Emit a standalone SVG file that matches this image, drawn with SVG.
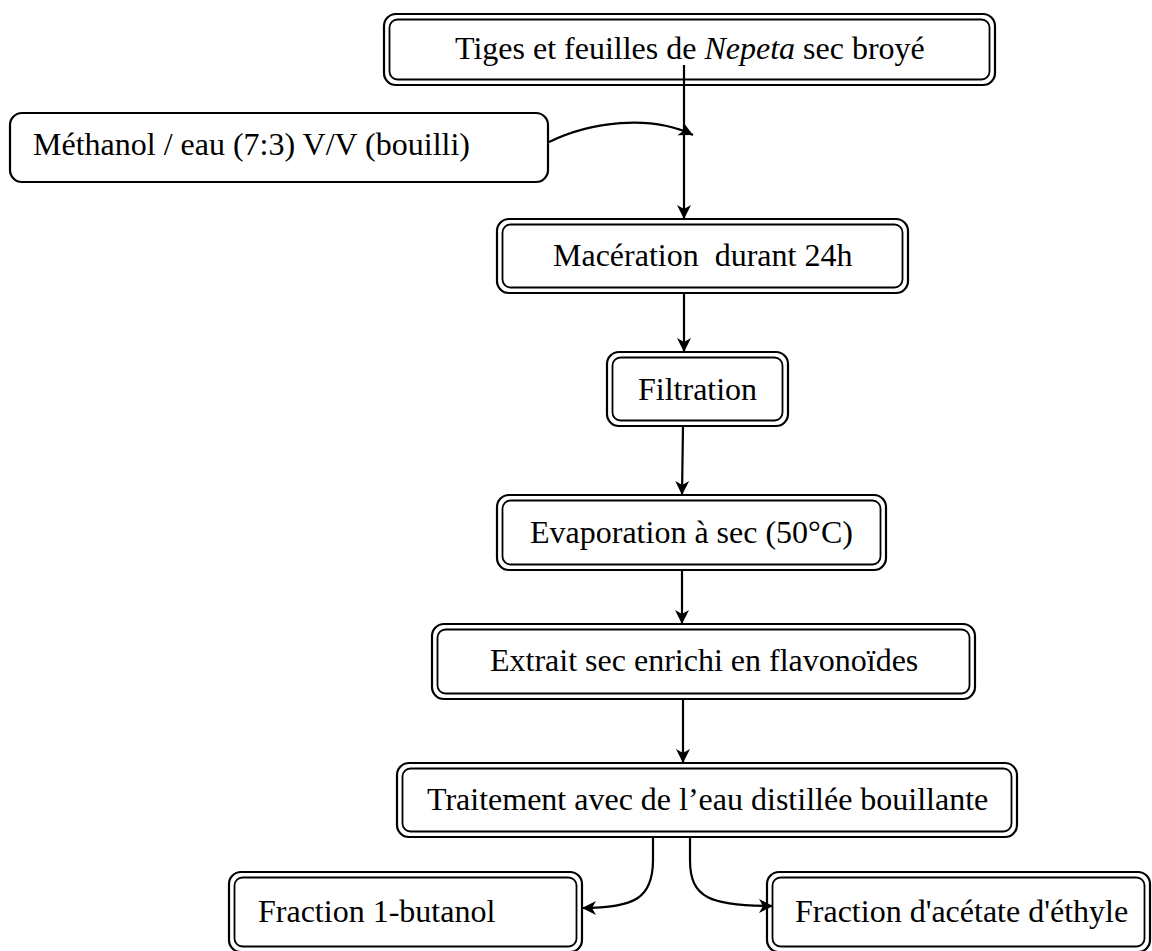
<svg xmlns="http://www.w3.org/2000/svg" width="1152" height="951" viewBox="0 0 1152 951">
<style>
.o{fill:#fff;stroke:#000;stroke-width:2.2}
.i{fill:none;stroke:#000;stroke-width:1.8}
.t{font-family:"Liberation Serif","Times New Roman",serif;font-size:32px;fill:#000}
.c{fill:none;stroke:#000;stroke-width:2.2}
</style>
<defs>
<marker id="a" markerUnits="userSpaceOnUse" markerWidth="16" markerHeight="16" refX="14" refY="7" orient="auto" viewBox="0 0 16 14">
<path d="M0,0 L14,7 L0,14 L4,7 z" fill="#000"/>
</marker>
</defs>
<rect width="1152" height="951" fill="#fff"/>
<g id="n1">
<rect class="o" x="384" y="14" width="611" height="71" rx="12"/>
<rect class="i" x="389.5" y="19.5" width="600" height="60" rx="8"/>
<text class="t" x="455" y="59">Tiges et feuilles de <tspan font-style="italic">Nepeta</tspan> sec broyé</text>
</g>
<g id="n2">
<rect class="o" x="10" y="113" width="538" height="69" rx="12"/>
<text class="t" x="33" y="155">Méthanol / eau (7:3) V/V (bouilli)</text>
</g>
<g id="n3">
<rect class="o" x="497" y="219" width="411" height="74" rx="12"/>
<rect class="i" x="502.5" y="224.5" width="400" height="63" rx="8"/>
<text class="t" x="553" y="266" xml:space="preserve">Macération  durant 24h</text>
</g>
<g id="n4">
<rect class="o" x="607" y="352" width="181" height="74" rx="12"/>
<rect class="i" x="612.5" y="357.5" width="170" height="63" rx="8"/>
<text class="t" x="638" y="400">Filtration</text>
</g>
<g id="n5">
<rect class="o" x="497" y="495" width="389" height="75" rx="12"/>
<rect class="i" x="502.5" y="500.5" width="378" height="64" rx="8"/>
<text class="t" x="530" y="543">Evaporation à sec (50°C)</text>
</g>
<g id="n6">
<rect class="o" x="432" y="624" width="543" height="75" rx="12"/>
<rect class="i" x="437.5" y="629.5" width="532" height="64" rx="8"/>
<text class="t" x="490" y="671">Extrait sec enrichi en flavonoïdes</text>
</g>
<g id="n7">
<rect class="o" x="397" y="763" width="620" height="74" rx="12"/>
<rect class="i" x="402.5" y="768.5" width="609" height="63" rx="8"/>
<text class="t" x="427" y="810">Traitement avec de l’eau distillée bouillante</text>
</g>
<g id="n8">
<rect class="o" x="229" y="872" width="353" height="80" rx="12"/>
<rect class="i" x="234.5" y="877.5" width="342" height="69" rx="8"/>
<text class="t" x="258" y="922">Fraction 1-butanol</text>
</g>
<g id="n9">
<rect class="o" x="767" y="872" width="383" height="80" rx="12"/>
<rect class="i" x="772.5" y="877.5" width="372" height="69" rx="8"/>
<text class="t" x="795" y="922">Fraction d'acétate d'éthyle</text>
</g>
<g id="connectors">
<path class="c" d="M684,65 L684,219" marker-end="url(#a)"/>
<path class="c" d="M549,142 C590,122 650,114 693,135" marker-end="url(#a)"/>
<path class="c" d="M684,294 L684,352" marker-end="url(#a)"/>
<path class="c" d="M683,426 L682,495" marker-end="url(#a)"/>
<path class="c" d="M682,570 L682,624" marker-end="url(#a)"/>
<path class="c" d="M683,699 L683,763" marker-end="url(#a)"/>
<path class="c" d="M653,837 L653,860 C653,898 635,908 582,908" marker-end="url(#a)"/>
<path class="c" d="M690,837 L690,860 C690,898 710,906 773,906" marker-end="url(#a)"/>
</g>
</svg>
